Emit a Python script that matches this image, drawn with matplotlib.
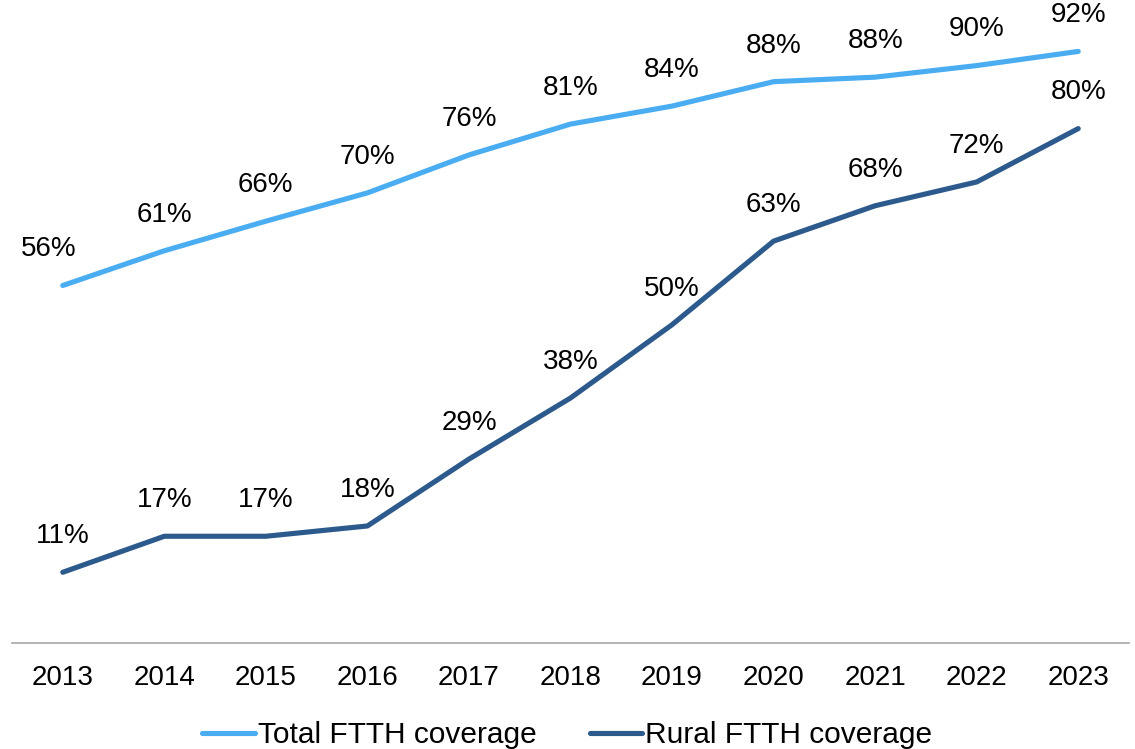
import matplotlib.pyplot as plt

plt.rcParams['font.family'] = ['Liberation Sans', 'DejaVu Sans']

# data
years = ['2013', '2014', '2015', '2016', '2017', '2018', '2019', '2020', '2021', '2022', '2023']
total_ftth = [55.6, 61, 65.6, 70, 75.9, 80.7, 83.5, 87.3, 88.0, 89.8, 92]
rural_ftth = [11, 16.6, 16.6, 18.2, 28.6, 38.1, 49.5, 62.5, 68, 71.7, 80]
total_labels = ['56%', '61%', '66%', '70%', '76%', '81%', '84%', '88%', '88%', '90%', '92%']
rural_labels = ['11%', '17%', '17%', '18%', '29%', '38%', '50%', '63%', '68%', '72%', '80%']

c_total = '#4AADF2'
c_rural = '#2C5A8C'

fig = plt.figure(figsize=(11.35, 7.49), dpi=100)
ax = fig.add_axes([12 / 1135, (749 - 643) / 749, 1117 / 1135, 643 / 749])

x = range(len(years))
ax.plot(x, total_ftth, color=c_total, linewidth=3.7, solid_capstyle='round', label='Total FTTH coverage')
ax.plot(x, rural_ftth, color=c_rural, linewidth=3.7, solid_capstyle='round', label='Rural FTTH coverage')

# data labels above points (first total label sits a bit to the left)
for i in x:
    dx = -10 if i == 0 else 0
    ax.annotate(total_labels[i], (i, total_ftth[i]), xytext=(dx, 26), textcoords='offset points',
                ha='center', va='center', fontsize=20)
    ax.annotate(rural_labels[i], (i, rural_ftth[i]), xytext=(0, 26), textcoords='offset points',
                ha='center', va='center', fontsize=20)

ax.set_xlim(-0.5, len(years) - 0.5)
ax.set_ylim(0, 100)
ax.set_xticks(list(x))
ax.set_xticklabels(years, fontsize=20)
ax.tick_params(axis='x', length=0, pad=16)
ax.set_yticks([])
for s in ['top', 'right', 'left']:
    ax.spines[s].set_visible(False)
ax.spines['bottom'].set_color('#A6A6A6')
ax.spines['bottom'].set_linewidth(1.2)

fig.legend(loc='center', bbox_to_anchor=(0.5, 1 - 735 / 749), ncol=2, frameon=False, fontsize=21.5,
           handlelength=1.75, handletextpad=0.1, columnspacing=1.8)

plt.savefig('out.png', dpi=100)
